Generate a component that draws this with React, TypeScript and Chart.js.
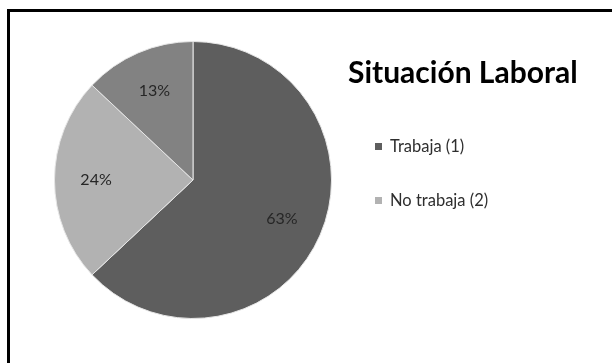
import React, { useEffect, useRef } from "react";
import { Chart, registerables } from "chart.js";

Chart.register(...registerables);

const chartTitle = "Situación Laboral";
const categories = ["Trabaja (1)", "No trabaja (2)", ""];
const percentages = [63, 24, 13];
const sliceColors = ["#5e5e5e", "#b2b2b2", "#828282"];

const pctLabelPlugin = {
  id: "pctLabels",
  afterDatasetsDraw(chart: any) {
    const ctx = chart.ctx;
    const meta = chart.getDatasetMeta(0);
    meta.data.forEach((arc: any, i: number) => {
      const p = arc.getProps(["x", "y", "startAngle", "endAngle", "outerRadius"], true);
      const mid = (p.startAngle + p.endAngle) / 2;
      const r = p.outerRadius * 0.7;
      ctx.save();
      ctx.font = "16px Lato, 'Open Sans', sans-serif";
      ctx.fillStyle = "#262626";
      ctx.textAlign = "center";
      ctx.textBaseline = "middle";
      ctx.fillText(percentages[i] + "%", p.x + Math.cos(mid) * r, p.y + Math.sin(mid) * r);
      ctx.restore();
    });
  },
};

export default function App() {
  const canvasRef = useRef<HTMLCanvasElement | null>(null);

  useEffect(() => {
    if (!canvasRef.current) return;
    const chart = new Chart(canvasRef.current, {
      type: "pie",
      data: {
        labels: categories,
        datasets: [
          {
            data: percentages,
            backgroundColor: sliceColors,
            borderColor: "#e6e6e6",
            borderWidth: 1,
          },
        ],
      },
      options: {
        animation: false,
        responsive: true,
        maintainAspectRatio: false,
        layout: { padding: { left: 54, top: 41, right: 280, bottom: 44 } },
        plugins: {
          legend: { display: false },
          tooltip: { enabled: false },
          title: { display: false },
        },
      },
      plugins: [pctLabelPlugin],
    });
    return () => chart.destroy();
  }, []);

  const legendItems = categories
    .map((label, i) => ({ label, color: sliceColors[i] }))
    .filter((it) => it.label !== "");

  return (
    <div
      style={{
        position: "fixed",
        left: 0,
        top: 0,
        width: 612,
        height: 363,
        background: "#ffffff",
        overflow: "hidden",
        fontFamily: "Lato, 'Open Sans', sans-serif",
      }}
    >
      <div
        style={{
          position: "absolute",
          left: 7,
          top: 9,
          right: 0,
          bottom: 0,
          borderTop: "3px solid #000",
          borderLeft: "3px solid #000",
        }}
      />
      <div style={{ position: "absolute", left: 0, top: 0, width: 612, height: 363 }}>
        <canvas ref={canvasRef} />
      </div>
      <div
        style={{
          position: "absolute",
          left: 348,
          top: 53,
          fontSize: 30,
          lineHeight: "36px",
          fontWeight: 700,
          color: "#000",
          whiteSpace: "nowrap",
        }}
      >
        {chartTitle}
      </div>
      {legendItems.map((it, i) => (
        <div
          key={it.label}
          style={{
            position: "absolute",
            left: 375,
            top: 135 + i * 54,
            height: 22,
            display: "flex",
            alignItems: "center",
            fontSize: 16.5,
            color: "#2e2e2e",
            whiteSpace: "nowrap",
          }}
        >
          <span
            style={{
              display: "inline-block",
              width: 7,
              height: 7,
              background: it.color,
              marginRight: 8,
            }}
          />
          {it.label}
        </div>
      ))}
    </div>
  );
}
